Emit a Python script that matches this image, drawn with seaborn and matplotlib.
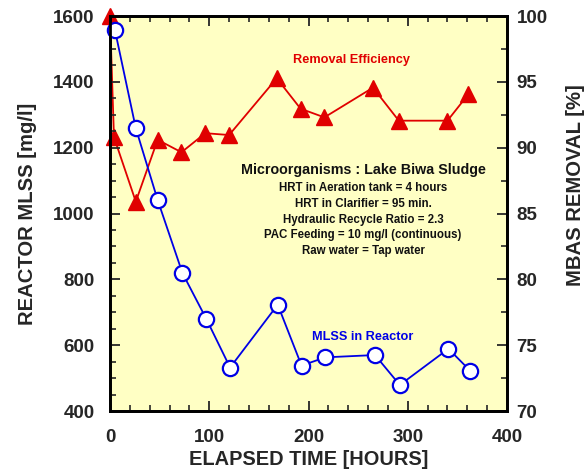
import matplotlib
matplotlib.use("Agg")
import matplotlib.pyplot as plt
import seaborn as sns
import pandas as pd
from matplotlib.ticker import MultipleLocator

# --- data ---
mlss_time = [5, 26, 48, 73, 97, 121, 169, 193, 217, 267, 292, 341, 363]
mlss_value = [1557, 1259, 1041, 819, 680, 532, 723, 538, 563, 570, 479, 589, 522]
rem_time = [0, 4, 26, 48, 72, 96, 120, 168, 192, 216, 265, 291, 340, 361]
rem_value = [100, 90.8, 85.9, 90.6, 89.65, 91.1, 90.96, 95.27, 92.96, 92.3, 94.56, 92.05, 92.05, 94.05]
x_ticks = [0, 100, 200, 300, 400]
left_ticks = [400, 600, 800, 1000, 1200, 1400, 1600]
right_ticks = [70, 75, 80, 85, 90, 95, 100]
note_title = "Microorganisms : Lake Biwa Sludge"
note_lines = ["HRT in Aeration tank = 4 hours",
              "HRT in Clarifier = 95 min.",
              "Hydraulic Recycle Ratio = 2.3",
              "PAC Feeding = 10 mg/l (continuous)",
              "Raw water = Tap water"]

mlss_df = pd.DataFrame({"time": mlss_time, "mlss": mlss_value})
rem_df = pd.DataFrame({"time": rem_time, "removal": rem_value})

sns.set_style("ticks")
plt.rcParams["font.family"] = ["Liberation Sans", "DejaVu Sans"]
plt.rcParams["font.weight"] = "bold"

BLUE = "#0000E6"
RED = "#E00000"
BG = "#FFFFC4"

fig = plt.figure(figsize=(5.88, 4.74), dpi=100)
ax = fig.add_axes([110 / 588, 63 / 474, 397 / 588, 395 / 474])
ax2 = ax.twinx()

# blue on top of red
ax.set_zorder(ax2.get_zorder() + 1)
ax.patch.set_visible(False)
ax2.patch.set_facecolor(BG)
ax2.patch.set_visible(True)

sns.lineplot(data=rem_df, x="time", y="removal", ax=ax2, color=RED,
             linewidth=1.3, marker="^", markersize=11, markerfacecolor=RED,
             markeredgecolor=RED, markeredgewidth=1, clip_on=False, sort=False)
sns.lineplot(data=mlss_df, x="time", y="mlss", ax=ax, color=BLUE,
             linewidth=1.3, marker="o", markersize=11, markerfacecolor="white",
             markeredgecolor=BLUE, markeredgewidth=1.6, clip_on=False, sort=False)

ax.set_xlim(0, 400)
ax.set_ylim(400, 1600)
ax2.set_ylim(70, 100)

ax.set_xticks(x_ticks)
ax.set_yticks(left_ticks)
ax2.set_yticks(right_ticks)
ax.xaxis.set_minor_locator(MultipleLocator(20))
ax.yaxis.set_minor_locator(MultipleLocator(50))
ax2.yaxis.set_minor_locator(MultipleLocator(2.5))

ax.tick_params(axis="both", which="major", direction="in", length=7, width=1.3,
               labelsize=13.5, top=True)
ax.tick_params(axis="y", which="major", pad=11)
ax.tick_params(axis="x", which="major", pad=13)
ax.tick_params(axis="x", which="both", top=True)
ax.tick_params(axis="both", which="minor", direction="in", length=4.5, width=1.2, top=True)
ax.tick_params(axis="y", which="both", right=False)
ax2.tick_params(axis="y", which="major", direction="in", length=7, width=1.3,
                labelsize=13.5, pad=7)
ax2.tick_params(axis="y", which="minor", direction="in", length=4.5, width=1.2)

for a in (ax, ax2):
    for s in a.spines.values():
        s.set_linewidth(2)
        s.set_color("black")
        s.set_visible(True)

for lab in ax.get_xticklabels() + ax.get_yticklabels() + ax2.get_yticklabels():
    lab.set_fontweight("bold")

ax.set_xlabel("ELAPSED TIME [HOURS]", fontsize=14.4, fontweight="bold", labelpad=3)
ax.set_ylabel("REACTOR MLSS [mg/l]", fontsize=14.6, fontweight="bold", labelpad=12)
ax2.set_ylabel("MBAS REMOVAL [%]", fontsize=14.6, fontweight="bold", labelpad=13,
               y=0.572)

ax.text(243, 1466, "Removal Efficiency", color=RED, fontsize=9.2,
        fontweight="bold", ha="center", va="center")
ax.text(255, 625, "MLSS in Reactor", color=BLUE, fontsize=9.2,
        fontweight="bold", ha="center", va="center")

ax.text(255, 1132, note_title, color="#111111", fontsize=10.3,
        fontweight="bold", ha="center", va="center")
y0 = 1076
for i, line in enumerate(note_lines):
    ax.text(255, y0 - i * 47.5, line, color="#111111", fontsize=8.3,
            fontweight="bold", ha="center", va="center")

fig.savefig("out.png", dpi=100)
